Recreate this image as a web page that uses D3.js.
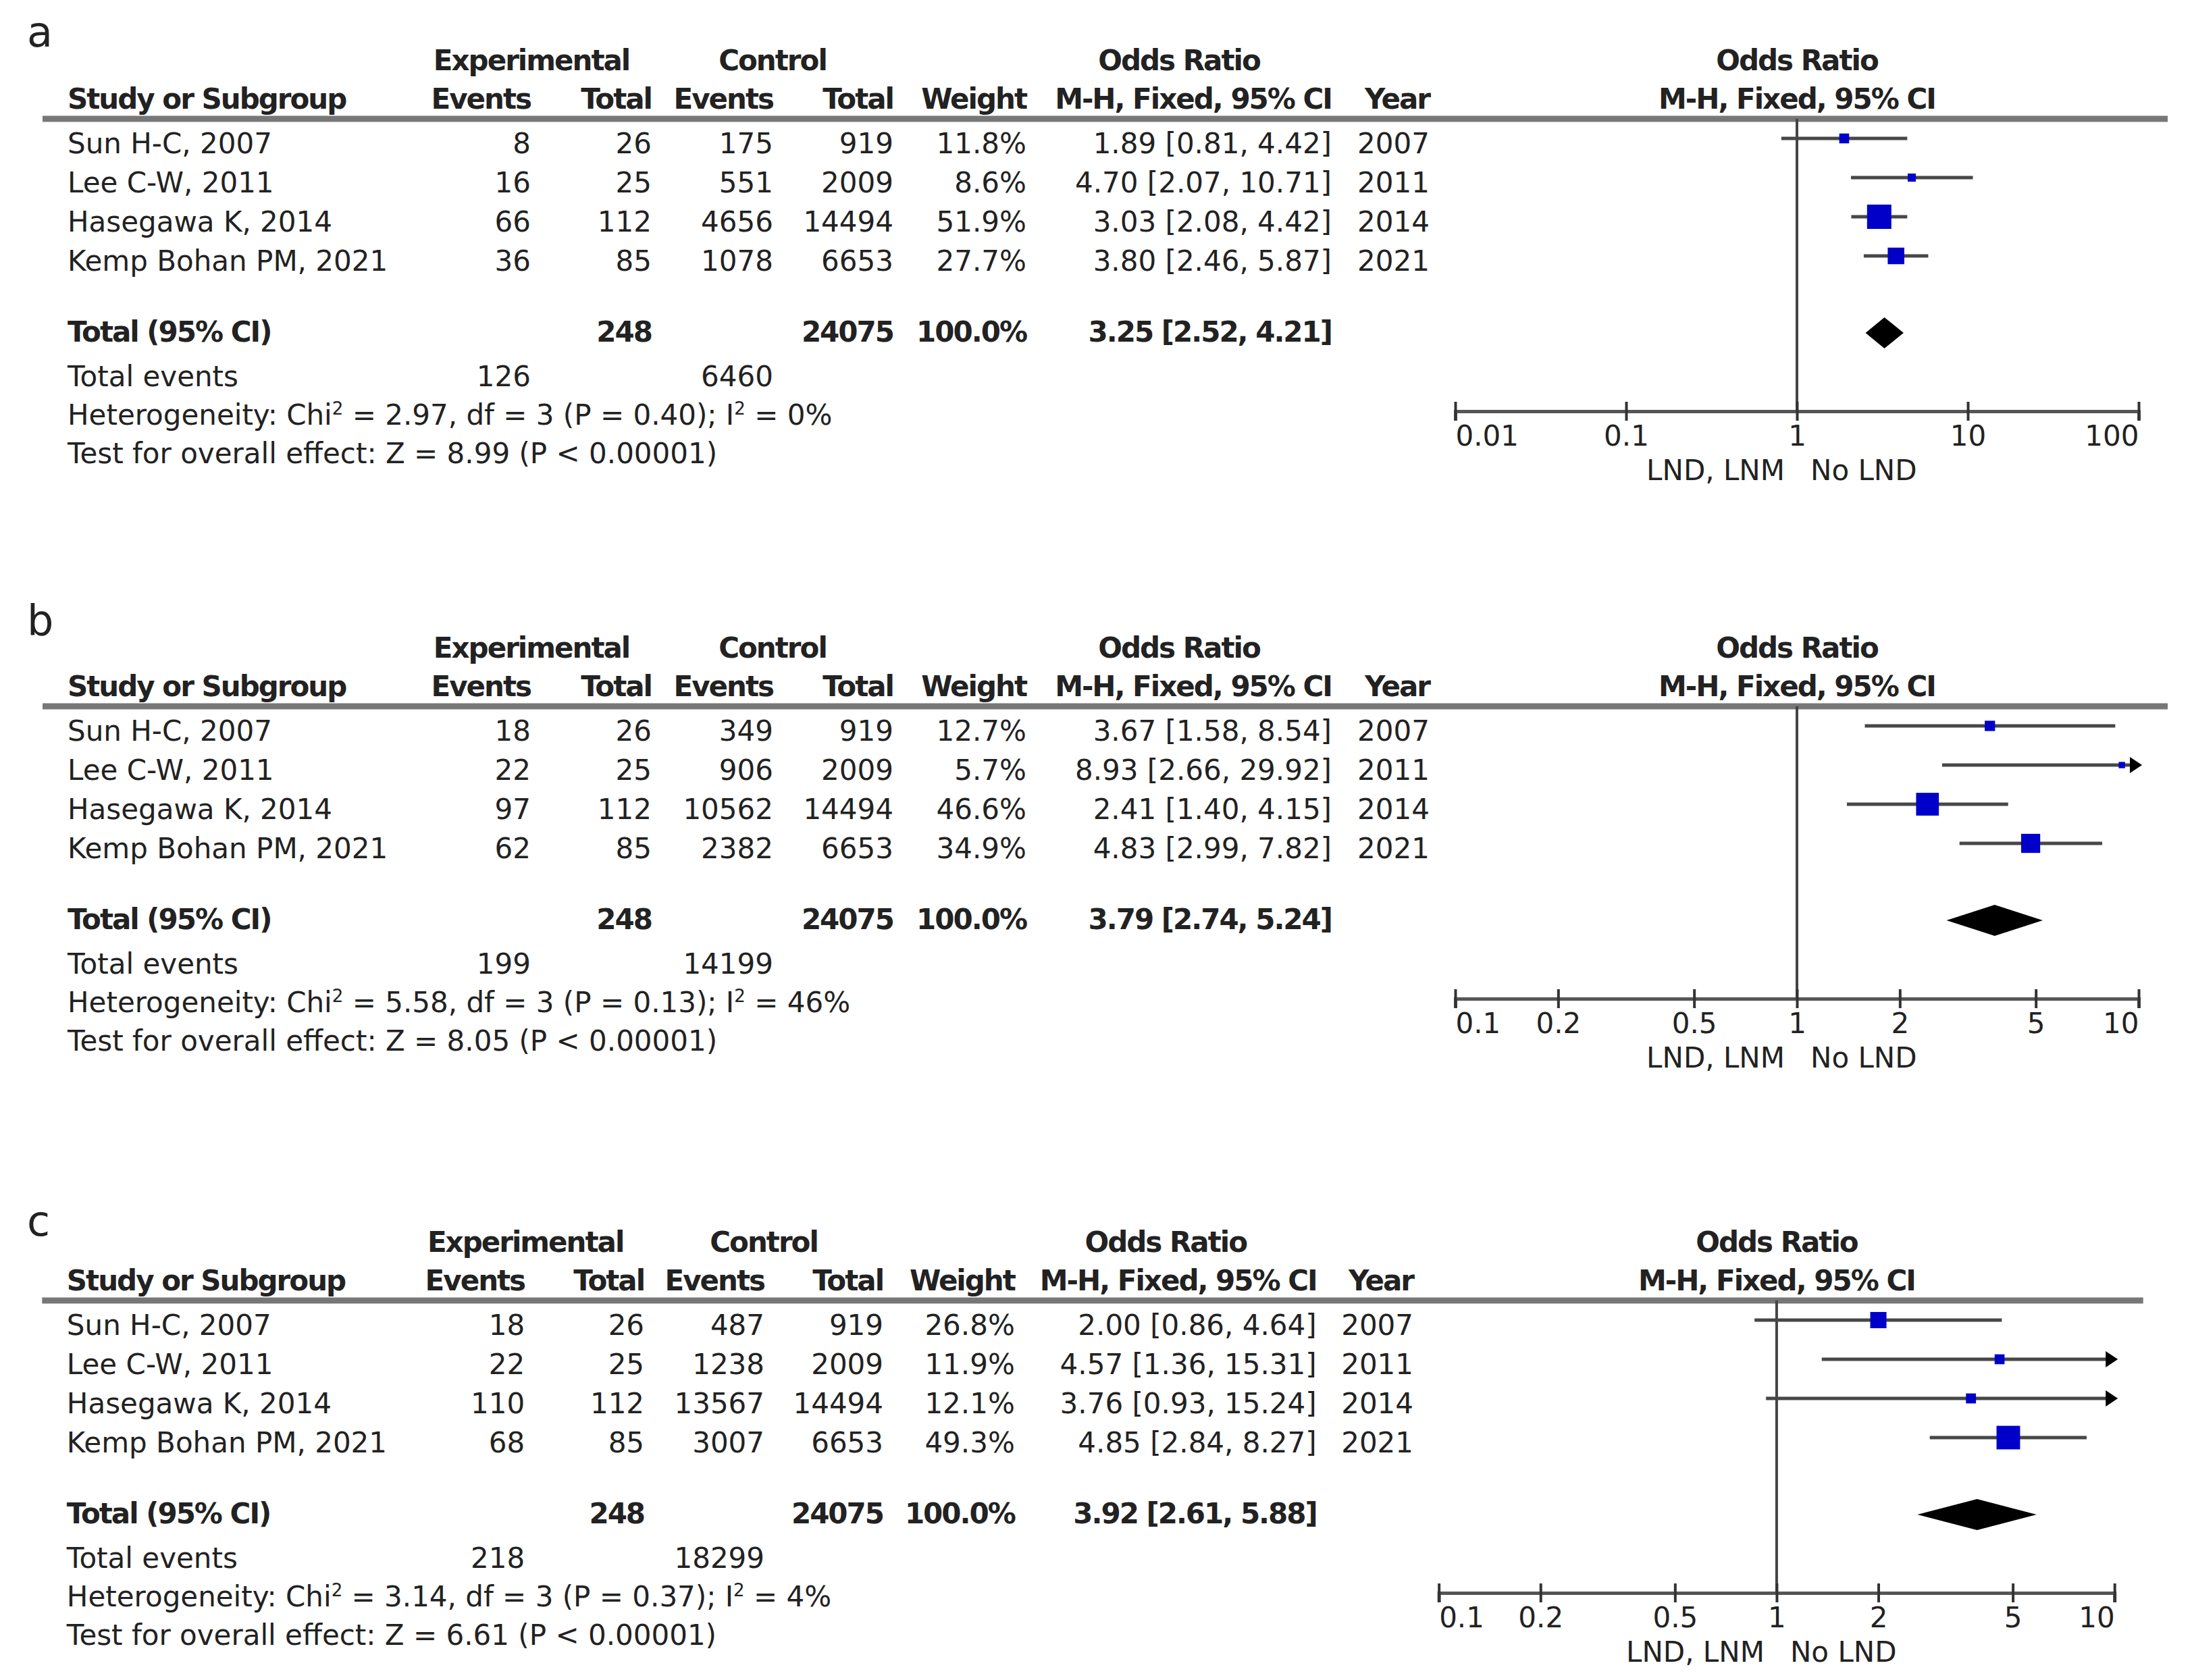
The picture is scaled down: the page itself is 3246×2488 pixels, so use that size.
<!DOCTYPE html>
<html><head><meta charset="utf-8">
<script src="https://cdn.jsdelivr.net/npm/d3@7"></script>
<style>html,body{margin:0;padding:0;background:#fff;}</style>
</head><body>
<svg id="chart" width="3246" height="2488"></svg>
<script>
// ---------- DATA ----------
const studies = ["Sun H-C, 2007", "Lee C-W, 2011", "Hasegawa K, 2014", "Kemp Bohan PM, 2021"];
const years = [2007, 2011, 2014, 2021];
const expTotal = [26, 25, 112, 85];
const ctrlTotal = [919, 2009, 14494, 6653];
const sumExpTotal = 248, sumCtrlTotal = 24075;

// Panel a
const expEventsA = [8, 16, 66, 36];
const ctrlEventsA = [175, 551, 4656, 1078];
const weightA = [11.8, 8.6, 51.9, 27.7];
const orA = [1.89, 4.70, 3.03, 3.80];
const lowerA = [0.81, 2.07, 2.08, 2.46];
const upperA = [4.42, 10.71, 4.42, 5.87];
const totalA = [3.25, 2.52, 4.21];
const totalEventsA = [126, 6460];
const statsA = {chi2: "2.97", df: 3, p: "0.40", i2: "0%", z: "8.99"};
const ticksA = [0.01, 0.1, 1, 10, 100];

// Panel b
const expEventsB = [18, 22, 97, 62];
const ctrlEventsB = [349, 906, 10562, 2382];
const weightB = [12.7, 5.7, 46.6, 34.9];
const orB = [3.67, 8.93, 2.41, 4.83];
const lowerB = [1.58, 2.66, 1.40, 2.99];
const upperB = [8.54, 29.92, 4.15, 7.82];
const totalB = [3.79, 2.74, 5.24];
const totalEventsB = [199, 14199];
const statsB = {chi2: "5.58", df: 3, p: "0.13", i2: "46%", z: "8.05"};
const ticksB = [0.1, 0.2, 0.5, 1, 2, 5, 10];

// Panel c
const expEventsC = [18, 22, 110, 68];
const ctrlEventsC = [487, 1238, 13567, 3007];
const weightC = [26.8, 11.9, 12.1, 49.3];
const orC = [2.00, 4.57, 3.76, 4.85];
const lowerC = [0.86, 1.36, 0.93, 2.84];
const upperC = [4.64, 15.31, 15.24, 8.27];
const totalC = [3.92, 2.61, 5.88];
const totalEventsC = [218, 18299];
const statsC = {chi2: "3.14", df: 3, p: "0.37", i2: "4%", z: "6.61"};
const ticksC = [0.1, 0.2, 0.5, 1, 2, 5, 10];

const sideLabels = ["LND, LNM", "No LND"];

// ---------- DRAW ----------
const svg = d3.select("#chart");
svg.append("rect").attr("width", 3246).attr("height", 2488).attr("fill", "#fff");

const FONT = "'DejaVu Sans', sans-serif";
const FS = 42;
const TXT = "#222";

const sizeScale = d3.scalePow().exponent(0.61).domain([0, 100]).range([0, 53.7]);

function drawPanel(cfg) {
  const sx = cfg.sx;
  const g = svg.append("g").attr("transform", `translate(0,${cfg.dy})`);
  const X = v => v * sx;
  const col = {name: 100, expEv: 786, expTot: 965, ctlEv: 1145, ctlTot: 1323, weight: 1520, ci: 1972, year: 2117};
  const x = d3.scaleLog().domain([cfg.ticks[0], cfg.ticks[cfg.ticks.length - 1]]).range([X(2155), X(3167)]);
  const [xmin, xmax] = x.domain();

  function text(xp, yp, s, anchor, bold) {
    return g.append("text").attr("x", xp).attr("y", yp).attr("text-anchor", anchor || "start")
      .attr("font-family", FONT).attr("font-size", FS).attr("fill", TXT)
      .attr("font-weight", bold ? "bold" : "normal")
      .attr("letter-spacing", bold ? -2 : 0).text(s);
  }

  // panel letter
  svg.append("text").attr("x", 40).attr("y", cfg.letterY).attr("font-family", FONT)
    .attr("font-size", 62).attr("fill", TXT).text(cfg.letter);

  // headers
  text(X(787), 104, "Experimental", "middle", true);
  text(X(1144), 104, "Control", "middle", true);
  text(X(1746), 104, "Odds Ratio", "middle", true);
  text(x(1), 104, "Odds Ratio", "middle", true);
  text(X(col.name), 161, "Study or Subgroup", "start", true);
  text(X(col.expEv), 161, "Events", "end", true);
  text(X(col.expTot), 161, "Total", "end", true);
  text(X(col.ctlEv), 161, "Events", "end", true);
  text(X(col.ctlTot), 161, "Total", "end", true);
  text(X(col.weight), 161, "Weight", "end", true);
  text(X(col.ci), 161, "M-H, Fixed, 95% CI", "end", true);
  text(X(col.year), 161, "Year", "end", true);
  text(x(1), 161, "M-H, Fixed, 95% CI", "middle", true);

  // header rule
  g.append("line").attr("x1", X(63)).attr("x2", X(3210)).attr("y1", 176).attr("y2", 176)
    .attr("stroke", "#777").attr("stroke-width", 9);

  // rows
  studies.forEach((s, i) => {
    const yb = 227 + i * 58;
    text(X(col.name), yb, s, "start");
    text(X(col.expEv), yb, cfg.expEvents[i], "end");
    text(X(col.expTot), yb, expTotal[i], "end");
    text(X(col.ctlEv), yb, cfg.ctrlEvents[i], "end");
    text(X(col.ctlTot), yb, ctrlTotal[i], "end");
    text(X(col.weight), yb, cfg.weight[i].toFixed(1) + "%", "end");
    text(X(col.ci), yb, `${cfg.or[i].toFixed(2)} [${cfg.lower[i].toFixed(2)}, ${cfg.upper[i].toFixed(2)}]`, "end");
    text(X(col.year), yb, years[i], "end");
  });

  // totals
  text(X(col.name), 506, "Total (95% CI)", "start", true);
  text(X(col.expTot), 506, sumExpTotal, "end", true);
  text(X(col.ctlTot), 506, sumCtrlTotal, "end", true);
  text(X(col.weight), 506, "100.0%", "end", true);
  text(X(col.ci), 506, `${cfg.total[0].toFixed(2)} [${cfg.total[1].toFixed(2)}, ${cfg.total[2].toFixed(2)}]`, "end", true);
  text(X(col.name), 572, "Total events", "start");
  text(X(col.expEv), 572, cfg.totalEvents[0], "end");
  text(X(col.ctlEv), 572, cfg.totalEvents[1], "end");

  const het = text(X(col.name), 629, "", "start");
  het.append("tspan").text("Heterogeneity: Chi");
  het.append("tspan").attr("font-size", 26).attr("dy", -15).text("2");
  het.append("tspan").attr("dy", 15).text(` = ${cfg.stats.chi2}, df = ${cfg.stats.df} (P = ${cfg.stats.p}); I`);
  het.append("tspan").attr("font-size", 26).attr("dy", -15).text("2");
  het.append("tspan").attr("dy", 15).text(` = ${cfg.stats.i2}`);
  text(X(col.name), 686, `Test for overall effect: Z = ${cfg.stats.z} (P < 0.00001)`, "start");

  // forest plot
  const axisY = 609;
  g.append("line").attr("x1", x(1)).attr("x2", x(1)).attr("y1", 176).attr("y2", axisY)
    .attr("stroke", "#444").attr("stroke-width", 4);

  const gx = g.append("g").attr("transform", `translate(0,${axisY})`)
    .call(d3.axisBottom(x).tickValues(cfg.ticks).tickFormat(d => String(d)).tickSizeOuter(0).tickSize(14));
  gx.select(".domain").attr("stroke", "#555").attr("stroke-width", 5);
  gx.selectAll(".tick line").attr("y1", -14).attr("y2", 14).attr("stroke", "#333").attr("stroke-width", 4);
  const nT = cfg.ticks.length;
  gx.selectAll(".tick text").attr("y", 51).attr("dy", 0)
    .attr("font-family", FONT).attr("font-size", FS).attr("fill", TXT)
    .attr("text-anchor", (d, i) => i === 0 ? "start" : (i === nT - 1 ? "end" : "middle"));

  text(x(1) - 18, 711, sideLabels[0], "end");
  text(x(1) + 20, 711, sideLabels[1], "start");

  // CI lines, squares, arrows
  studies.forEach((s, i) => {
    const yc = 205 + i * 58;
    const lo = Math.max(cfg.lower[i], xmin), hi = Math.min(cfg.upper[i], xmax);
    const arrowR = cfg.upper[i] > xmax, arrowL = cfg.lower[i] < xmin;
    const x1 = arrowL ? x(xmin) + 12 : x(lo);
    const x2 = arrowR ? x(xmax) - 12 : x(hi);
    g.append("line").attr("x1", x1).attr("x2", x2).attr("y1", yc).attr("y2", yc)
      .attr("stroke", "#474747").attr("stroke-width", 5);
    const sz = sizeScale(cfg.weight[i]);
    g.append("rect").attr("x", x(cfg.or[i]) - sz / 2).attr("y", yc - sz / 2)
      .attr("width", sz).attr("height", sz).attr("fill", "#0000c8");
    if (arrowR) {
      const xe = x(xmax) + 5;
      g.append("path").attr("d", `M${xe},${yc} L${xe - 18},${yc - 12} L${xe - 18},${yc + 12} Z`).attr("fill", "#000");
    }
  });

  // diamond
  const yd = 493, hd = 23;
  g.append("path").attr("d",
    `M${x(cfg.total[1])},${yd} L${x(cfg.total[0])},${yd - hd} L${x(cfg.total[2])},${yd} L${x(cfg.total[0])},${yd + hd} Z`)
    .attr("fill", "#000");
}

drawPanel({letter: "a", letterY: 69, dy: 0, sx: 1, ticks: ticksA, expEvents: expEventsA, ctrlEvents: ctrlEventsA,
  weight: weightA, or: orA, lower: lowerA, upper: upperA, total: totalA, totalEvents: totalEventsA, stats: statsA});
drawPanel({letter: "b", letterY: 940, dy: 870, sx: 1, ticks: ticksB, expEvents: expEventsB, ctrlEvents: ctrlEventsB,
  weight: weightB, or: orB, lower: lowerB, upper: upperB, total: totalB, totalEvents: totalEventsB, stats: statsB});
drawPanel({letter: "c", letterY: 1830, dy: 1750, sx: 0.9887, ticks: ticksC, expEvents: expEventsC, ctrlEvents: ctrlEventsC,
  weight: weightC, or: orC, lower: lowerC, upper: upperC, total: totalC, totalEvents: totalEventsC, stats: statsC});
</script>
</body></html>
